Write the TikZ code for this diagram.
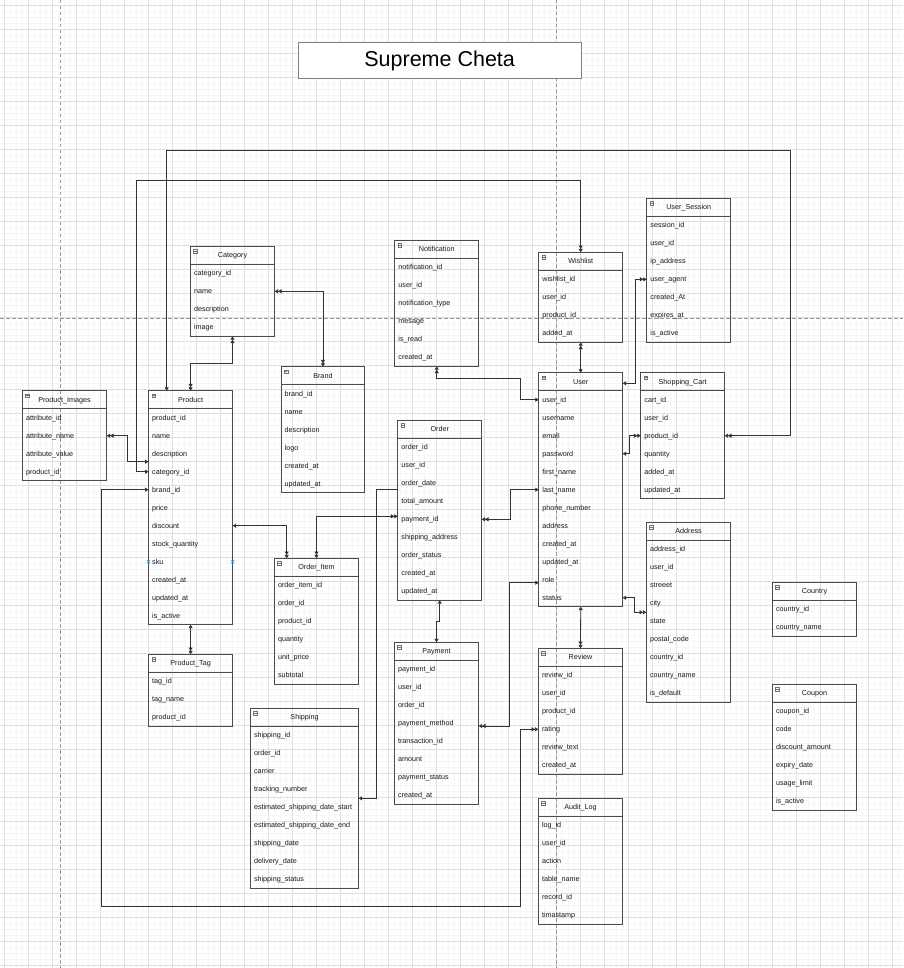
\documentclass[tikz,border=0pt]{standalone}
\usepackage{fontspec}
\setmainfont{Liberation Sans}
\usetikzlibrary{arrows.meta}
\tikzset{
  sgl/.tip={Triangle[length=3.4pt,width=4pt]},
  dbl/.tip={Triangle[length=3.4pt,width=4pt] Triangle[length=3.4pt,width=4pt]},
  erbox/.style={draw=black!70, line width=0.85pt, inner sep=0pt, outer sep=0pt},
  erline/.style={draw=black!70, line width=0.85pt},
  erfield/.style={anchor=west, inner sep=0pt, text height=5.2pt, text depth=0pt, font=\fontsize{7.2}{8}\selectfont, text=black!90},
  ertitle/.style={inner sep=0pt, text height=5.2pt, text depth=0pt, font=\fontsize{7.2}{8}\selectfont, text=black!90},
  ericon/.style={draw=black!55, line width=0.4pt},
  conn/.style={draw=black!80, line width=0.8pt},
  minorgrid/.style={draw=black!3, line width=0.9pt},
  majorgrid/.style={draw=black!12, line width=0.8pt},
  pagebreak/.style={draw=black!40, line width=0.7pt, dash pattern=on 3.5pt off 2.5pt},
  bluex/.style={draw=cyan!70!blue!80, line width=0.6pt},
}
\newcommand\erent[6]{%
  \coordinate (#1-nw) at (#3,#4);
  \foreach \f [count=\i] in {#6} {
    \node[erfield] (#1-\i) at ([xshift=3.5pt,yshift={-(18*\i+9)*1pt}]#1-nw) {\f};
    \xdef\ercount{\i}
  }
  \node[erbox, minimum width=#5pt, minimum height={(\ercount+1)*18pt}, anchor=north west] (#1) at (#1-nw) {};
  \draw[erline] ([yshift=-18pt]#1.north west) -- ([yshift=-18pt]#1.north east);
  \node[ertitle] (#1-h) at ([yshift=-9pt]#1.north) {#2};
  \draw[ericon] ([xshift=3.2pt,yshift=-3pt]#1.north west) rectangle ++(3.6,3.6);
  \draw[ericon] ([xshift=3.8pt,yshift=-4.8pt]#1.north west) -- ++(2.4,0);
}
\begin{document}
\begin{tikzpicture}[x=1pt,y=-1pt]
\useasboundingbox (0,0) rectangle (903,968);
\fill[white] (0,0) rectangle (903,968);
\begin{scope}
\clip (0,0) rectangle (903,968);
\foreach \k in {0,...,149} \draw[minorgrid] (4.2+6*\k,0) -- (4.2+6*\k,968);
\foreach \k in {0,...,160} \draw[minorgrid] (0,5.3+6*\k) -- (903,5.3+6*\k);
\foreach \k in {0,...,37} \draw[majorgrid] (4.2+24*\k,0) -- (4.2+24*\k,968);
\foreach \k in {0,...,40} \draw[majorgrid] (0,5.3+24*\k) -- (903,5.3+24*\k);
\draw[pagebreak] (60.3,0) -- (60.3,968);
\draw[pagebreak] (556.7,0) -- (556.7,968);
\draw[pagebreak] (0,318.3) -- (903,318.3);
\end{scope}

% title
\node[draw=black!50, line width=0.8pt, fill=white, minimum width=282.7pt, minimum height=35.6pt, inner sep=0pt, font=\fontsize{21.5}{24}\selectfont] (title) at (439.65,60.5) {Supreme Cheta};

% entities
\erent{cat}{Category}{190.3}{246.3}{84.4}{category\_id,name,description,image}
\erent{pimg}{Product\_Images}{22.3}{390.7}{84.4}{attribute\_id,attribute\_name,attribute\_value,product\_id}
\erent{product}{Product}{148.5}{390.7}{84.2}{product\_id,name,description,category\_id,brand\_id,price,discount,stock\_quantity,sku,created\_at,updated\_at,is\_active}
\erent{brand}{Brand}{281}{366.7}{83.8}{brand\_id,name,description,logo,created\_at,updated\_at}
\erent{notif}{Notification}{394.7}{240.3}{84}{notification\_id,user\_id,notification\_type,mesage,is\_read,created\_at}
\erent{wish}{Wishlist}{538.7}{252.3}{84}{wishlist\_id,user\_id,product\_id,added\_at}
\erent{usess}{User\_Session}{646.7}{198.3}{84}{session\_id,user\_id,ip\_address,user\_agent,created\_At,expires\_at,is\_active}
\erent{user}{User}{538.7}{372.7}{84}{user\_id,username,email,password,first\_name,last\_name,phone\_number,address,created\_at,updated\_at,role,status}
\erent{scart}{Shopping\_Cart}{640.7}{372.7}{84}{cart\_id,user\_id,product\_id,quantity,added\_at,updated\_at}
\erent{order}{Order}{397.7}{420.3}{84}{order\_id,user\_id,order\_date,total\_amount,payment\_id,shipping\_address,order\_status,created\_at,updated\_at}
\erent{oitem}{Order\_Item}{274.3}{558.3}{84.4}{order\_item\_id,order\_id,product\_id,quantity,unit\_price,subtotal}
\erent{ptag}{Product\_Tag}{148.5}{654.3}{84.2}{tag\_id,tag\_name,product\_id}
\erent{ship}{Shipping}{250.3}{708.3}{108.4}{shipping\_id,order\_id,carrier,tracking\_number,estimated\_shipping\_date\_start,estimated\_shipping\_date\_end,shipping\_date,delivery\_date,shipping\_status}
\erent{pay}{Payment}{394.3}{642.3}{84.4}{payment\_id,user\_id,order\_id,payment\_method,transaction\_id,amount,payment\_status,created\_at}
\erent{addr}{Address}{646.3}{522.3}{84.4}{address\_id,user\_id,streeet,city,state,postal\_code,country\_id,country\_name,is\_default}
\erent{country}{Country}{772.3}{582.3}{84.4}{country\_id,country\_name}
\erent{coupon}{Coupon}{772.3}{684.3}{84.4}{coupon\_id,code,discount\_amount,expiry\_date,usage\_limit,is\_active}
\erent{review}{Review}{538.3}{648.3}{84.4}{review\_id,user\_id,product\_id,rating,review\_text,created\_at}
\erent{audit}{Audit\_Log}{538.3}{798.3}{84.4}{log\_id,user\_id,action,table\_name,record\_id,timastamp}

% connectors
\draw[conn, dbl-dbl] (cat.east |- cat-2) -| (brand.north);
\draw[conn, dbl-dbl] (cat.south) -- ++(0,27) -| (product.north);
\draw[conn, dbl-sgl] (pimg.east |- pimg-2) -| (127.7,461.7) -- (product.west |- 0,461.7);
\draw[conn, sgl-dbl] (166.7,0 |- product.north) -- (166.7,150) -| (790.7,435.7) -- (scart.east |- scart-3);
\draw[conn, dbl-sgl] (wish.north) -- (580.7,180.3) -| (136.7,471.7) -- (product.west |- product-4);
\draw[conn, dbl-sgl] (wish.south) -- (user.north);
\draw[conn, dbl-sgl] (usess.west |- usess-4) -| (635,383.3) -- (user.east |- 0,383.3);
\draw[conn, dbl-sgl] (notif.south) |- (520.7,378.3) |- (user.west |- user-1);
\draw[conn, dbl-sgl] (scart.west |- scart-3) -| (629,453.7) -- (user.east |- user-4);
\draw[conn, dbl-sgl] (order.east |- order-5) -| (510.3,489.7) -- (user.west |- user-6);
\draw[conn, sgl-dbl] (product.east |- product-7) -| (286.7,0 |- oitem.north);
\draw[conn, dbl-dbl] (order.west |- 0,516.3) -| (oitem.north);
\draw[conn, -sgl] (order.west |- 0,489.3) -| (376.7,798.3) -- (ship.east |- 0,798.3);
\draw[conn, sgl-sgl] (order.south) -- ++(0,21.4) -| (pay.north);
\draw[conn, sgl-dbl] (product.south) -- (ptag.north);
\draw[conn, sgl-dbl] (product.west |- product-5) -| (101,906) -| (520.7,729.3) -- (review.west |- review-4);
\draw[conn, dbl-sgl] (pay.east |- 0,726) -| (509.3,582.7) -- (user.west |- 0,582.7);
\draw[conn, sgl-dbl] (user.south) -- (review.north);
\draw[conn, sgl-dbl] (user.east |- user-12) -| (634.7,612.3) -- (addr.west |- 0,612.3);

% connection point marks on sku row
\foreach \p in {product.west, product.east} {
  \draw[bluex] (\p |- product-9) +(-1.6,-1.6) -- +(1.6,1.6) +(-1.6,1.6) -- +(1.6,-1.6);
}
\end{tikzpicture}
\end{document}
